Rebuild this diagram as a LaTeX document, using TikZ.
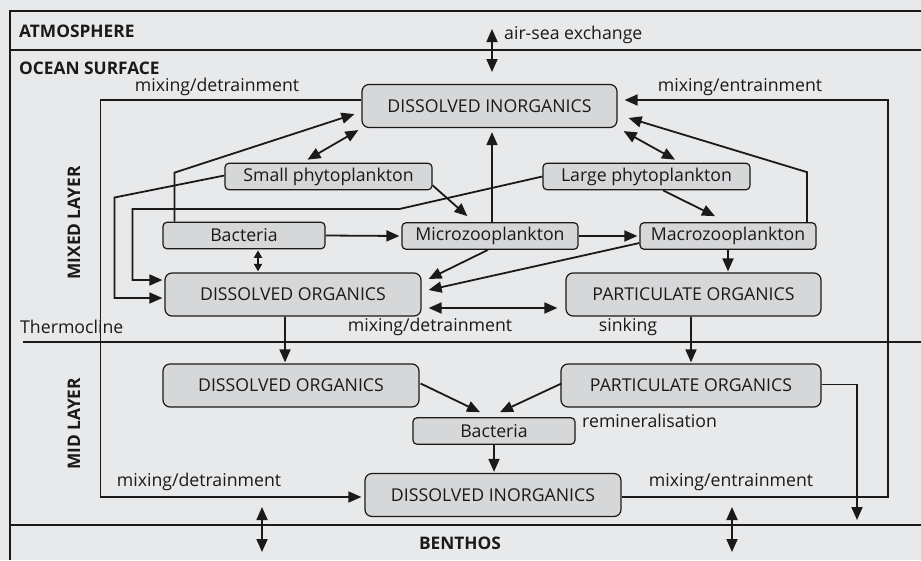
\documentclass[tikz,border=0pt]{standalone}
\usepackage{fontspec}
\setmainfont{Open Sans}
\usetikzlibrary{arrows.meta,calc}
\definecolor{bg}{HTML}{E8E9EB}
\definecolor{nodefill}{HTML}{D6D7D9}
\definecolor{ink}{HTML}{1A1A1A}
\begin{document}
\begin{tikzpicture}[x=1pt,y=-1pt,
  font=\fontsize{17.7}{20}\selectfont,
  box/.style={draw=ink,fill=nodefill,line width=1.2pt,inner sep=0pt,text=ink},
  bigbox/.style={box,rounded corners=7pt,minimum height=43pt},
  smallbox/.style={box,rounded corners=4pt,minimum height=26.5pt},
  link/.style={draw=ink,line width=1.8pt},
  arr/.style={link,-{Triangle[length=13pt,width=11pt]}},
  darr/.style={link,{Triangle[length=13pt,width=11pt]}-{Triangle[length=13pt,width=11pt]}},
  sdarr/.style={link,{Triangle[length=7.5pt,width=8pt]}-{Triangle[length=7.5pt,width=8pt]}},
  lbl/.style={text=ink,inner sep=0pt},
  hdr/.style={lbl,font=\fontsize{17.3}{20}\selectfont\bfseries},
  framel/.style={draw=ink,line width=1.5pt}
]
\fill[bg] (0,0) rectangle (921,560);
\useasboundingbox (0,0) rectangle (921,560);

% frame lines
\draw[framel] (921,11) -- (10,11) -- (10,560);
\draw[framel] (10,50) -- (921,50);
\draw[framel] (10,525) -- (921,525);
\draw[framel] (23,342) -- (921,342);

% headers and labels
\node[hdr,anchor=west] (atm) at (19,31) {ATMOSPHERE};
\node[hdr,anchor=west] (ocs) at (19,68) {OCEAN SURFACE};
\node[hdr,rotate=90] (mxl) at (74,223) {MIXED LAYER};
\node[hdr,rotate=90] (mdl) at (74,424) {MID LAYER};
\node[hdr] (ben) at (460,543) {BENTHOS};
\node[lbl,anchor=west] (thc) at (20,327) {Thermocline};
\node[lbl,anchor=west] (ase) at (504,35) {air-sea exchange};
\node[lbl] (l1) at (217,87) {mixing/detrainment};
\node[lbl] (l2) at (740,87) {mixing/entrainment};
\node[lbl] (l3) at (430,327) {mixing/detrainment};
\node[lbl] (l4) at (628,327) {sinking};
\node[lbl,anchor=west] (l5) at (582,421) {remineralisation};
\node[lbl] (l6) at (199,482) {mixing/detrainment};
\node[lbl] (l7) at (731,482) {mixing/entrainment};

% nodes
\node[bigbox,minimum width=255pt] (dit) at (489.5,106) {DISSOLVED INORGANICS};
\node[smallbox,minimum width=207pt] (sp) at (328.5,176.5) {Small phytoplankton};
\node[smallbox,minimum width=207pt] (lp) at (646.5,176.5) {Large phytoplankton};
\node[smallbox,minimum width=162pt] (bt) at (244,235.5) {Bacteria};
\node[smallbox,minimum width=176pt] (mi) at (490,236) {Microzooplankton};
\node[smallbox,minimum width=176pt] (ma) at (728,236) {Macrozooplankton};
\node[bigbox,minimum width=256pt] (dot) at (293,294.5) {DISSOLVED ORGANICS};
\node[bigbox,minimum width=255pt] (pot) at (693.5,294.5) {PARTICULATE ORGANICS};
\node[bigbox,minimum width=256pt] (dom) at (291,385.5) {DISSOLVED ORGANICS};
\node[bigbox,minimum width=260pt] (pom) at (691,385.5) {PARTICULATE ORGANICS};
\node[smallbox,minimum width=162pt] (bm) at (494,431) {Bacteria};
\node[bigbox,minimum width=256pt] (dib) at (493,495) {DISSOLVED INORGANICS};

% free-end coordinates
\coordinate (as1) at (492,29);
\coordinate (as2) at (492,72);
\coordinate (bn1) at (262,507);
\coordinate (bn2) at (262,552);
\coordinate (bn3) at (732,507);
\coordinate (bn4) at (732,552);
\coordinate (pe) at (857,520);

% exchanges
\draw[darr] (as1) -- (as2);
\draw[darr] (bn1) -- (bn2);
\draw[darr] (bn3) -- (bn4);

% mixing loops
\draw[arr,shorten >=3pt] ([yshift=6pt]dit.west) -- ++(-261,0) |- ([yshift=-2pt]dib.west);
\draw[arr,shorten >=7pt] ([yshift=-2pt]dib.east) -- ++(266,0) |- ([yshift=6pt]dit.east);

% mixed layer links
\draw[darr] ($(sp.north)+(-21,-3)$) -- ($(dit.south west)+(-3,2)$);
\draw[arr] ($(bt.north west)+(12,0)$) -- ++(0,-49) -- ($(dit.south west)+(-7,-14)$);
\draw[arr] ($(sp.south east)+(0,-5)$) -- ($(mi.north west)+(66,-6)$);
\draw[arr,shorten >=2pt] ([yshift=1pt]sp.west) -- ++(-110,22) |- ([yshift=-3.5pt]dot.west);
\draw[arr,shorten >=2pt] (lp.west) -- ++(-143,32.5) -- ++(-267,0) |- ([yshift=14.5pt]dot.west);
\draw[sdarr] ($(bt.south)+(14,1)$) -- ($(dot.north)+(-35,-1)$);
\draw[arr,shorten >=2pt] (bt.east) -- (mi.west);
\draw[arr] ($(mi.south)+(-2,0)$) -- ($(dot.east)+(7,-15.5)$);
\draw[arr] ($(ma.west)+(0,7)$) -- ($(dot.east)+(7,-4.5)$);
\draw[darr] ($(dot.east)+(7,13.5)$) -- ($(pot.west)+(-8,13.5)$);
\draw[arr,shorten >=2pt] (mi.east) -- (ma.west);
\coordinate (m1) at ($(mi.north)+(2,0)$);
\draw[arr,shorten >=4pt] (m1) -- (m1 |- dit.south);
\draw[darr] ($(dit.south east)+(6,3)$) -- ($(lp.north)+(28.5,-3)$);
\draw[arr] ($(lp.south)+(16.5,0)$) -- ($(ma.north)+(-13,-6)$);
\draw[arr] ($(ma.north)+(79,0)$) -- ++(0,-50) -- ($(dit.east)+(11,12)$);
\draw[arr,shorten >=1pt] (ma.south) -- (ma.south |- pot.north);

% sinking / mid layer
\coordinate (d1) at ($(dot.south)+(-8,0)$);
\draw[arr,shorten >=1pt] (d1) -- (d1 |- dom.north);
\coordinate (p1) at ($(pot.south)+(-2.5,0)$);
\draw[arr,shorten >=1pt] (p1) -- (p1 |- pom.north);
\draw[arr] ($(dom.east)+(1,-2)$) -- ($(bm.north)+(-14,-5)$);
\draw[arr] ($(pom.west)+(1,-2)$) -- ($(bm.north)+(6,-5)$);
\draw[arr,shorten >=1pt] (bm.south) -- (bm.south |- dib.north);
\draw[arr] ([yshift=1pt]pom.east) -| (pe);
\end{tikzpicture}
\end{document}
